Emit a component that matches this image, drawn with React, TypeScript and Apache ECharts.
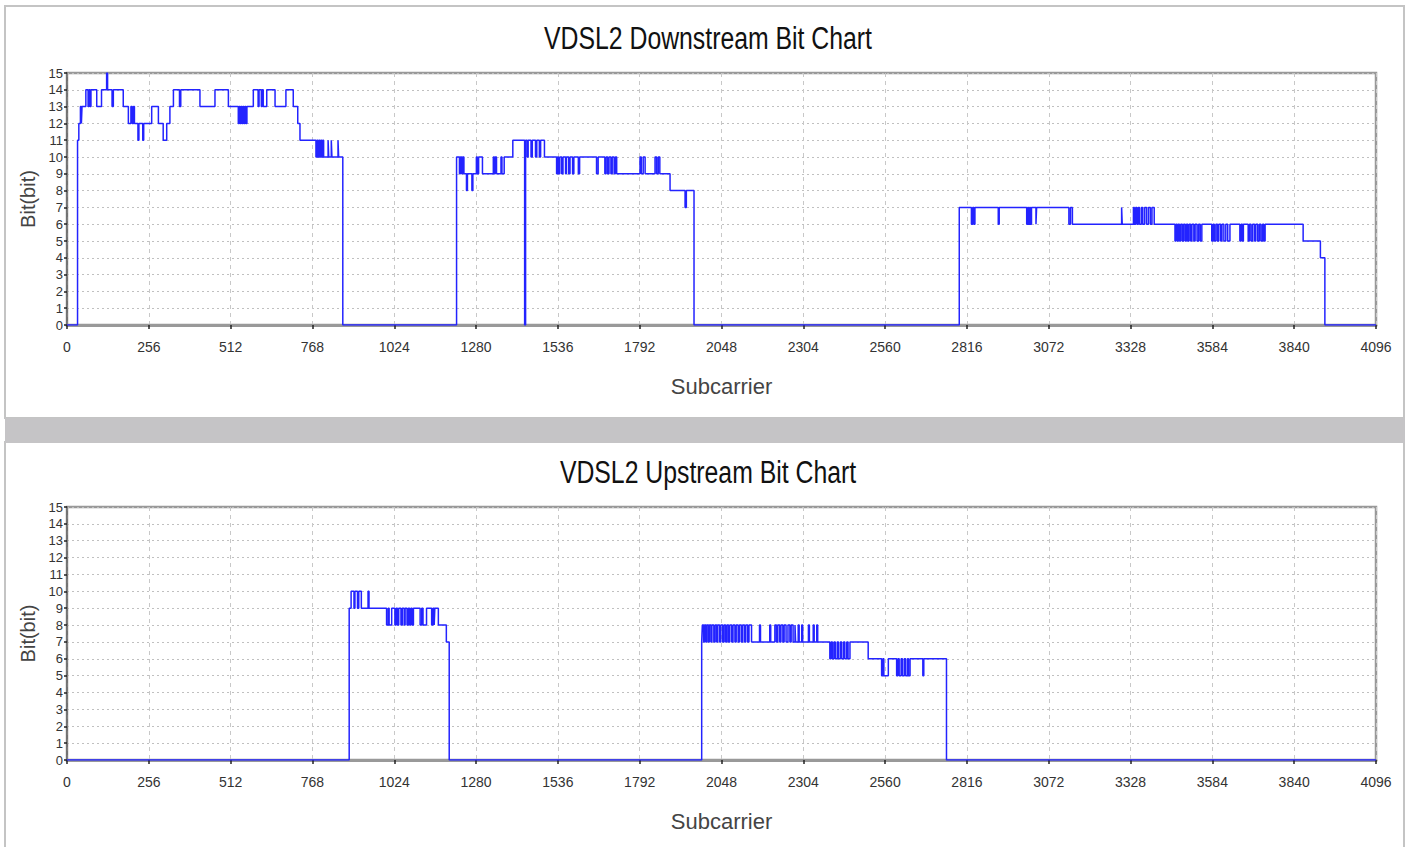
import { useEffect, useRef } from "react";
import * as echarts from "echarts";

// ---------- data (subcarrier index, bits) breakpoints, held until next point ----------
const downTitle = "VDSL2 Downstream Bit Chart";
const upTitle = "VDSL2 Upstream Bit Chart";
const xName = "Subcarrier";
const yName = "Bit(bit)";

const downBand1: [number, number][] = [
  [0, 0], [33, 11], [37, 12], [42, 13], [45, 12], [47, 13], [59, 14], [66, 13], [69, 14], [72, 13], [75, 14],
  [93, 13], [108, 14], [124, 15], [127, 14], [141, 13], [145, 14], [176, 13], [192, 12], [200, 13], [204, 12],
  [208, 13], [211, 12], [222, 11], [225, 12], [237, 11], [240, 12], [265, 13], [286, 12], [301, 11], [312, 12],
  [322, 13], [333, 14], [352, 13], [356, 14], [416, 13], [463, 14], [505, 13], [536, 12], [539, 13], [542, 12],
  [545, 13], [548, 12], [551, 13], [554, 12], [557, 13], [560, 12], [563, 13], [583, 14], [598, 13], [601, 14],
  [608, 13], [611, 14], [614, 13], [625, 14], [651, 13], [685, 14], [708, 13], [722, 12], [729, 11], [779, 10],
  [782, 11], [785, 10], [788, 11], [791, 10], [794, 11], [797, 10], [800, 11], [803, 10], [817, 11], [819, 10],
  [827, 11], [829, 10], [848, 11], [850, 10], [863, 0],
];
const downBand2: [number, number][] = [
  [1219, 10], [1228, 9], [1231, 10], [1235, 9], [1238, 10], [1242, 9], [1250, 8], [1253, 9], [1267, 8], [1270, 9],
  [1281, 10], [1284, 9], [1288, 10], [1300, 9], [1334, 10], [1337, 9], [1340, 10], [1344, 9], [1358, 10], [1361, 9],
  [1368, 10], [1395, 11], [1432, 0], [1435, 11], [1440, 10], [1443, 11], [1452, 10], [1456, 11], [1466, 10],
  [1470, 11], [1478, 10], [1482, 11], [1494, 10], [1532, 9], [1535, 10], [1538, 9], [1542, 10], [1548, 9],
  [1552, 10], [1560, 9], [1563, 10], [1570, 9], [1574, 10], [1582, 9], [1586, 10], [1600, 9], [1604, 10],
  [1657, 9], [1662, 10], [1683, 9], [1687, 10], [1692, 9], [1696, 10], [1702, 9], [1706, 10], [1712, 9],
  [1716, 10], [1720, 9], [1793, 10], [1797, 9], [1803, 10], [1809, 9], [1840, 10], [1845, 9], [1850, 10],
  [1855, 9], [1887, 8], [1934, 7], [1938, 8], [1962, 0],
];
const downBand3: [number, number][] = [
  [2792, 7], [2830, 6], [2834, 7], [2838, 6], [2841, 7], [2914, 6], [2917, 7], [3003, 6], [3006, 7], [3009, 6],
  [3012, 7], [3015, 6], [3018, 7], [3032, 6], [3034, 7], [3135, 6], [3140, 7], [3146, 6], [3300, 7], [3302, 6],
  [3337, 7], [3340, 6], [3344, 7], [3348, 6], [3352, 7], [3356, 6], [3362, 7], [3366, 6], [3372, 7], [3378, 6],
  [3384, 7], [3390, 6], [3395, 7], [3402, 6], [3467, 5], [3470, 6], [3474, 5], [3477, 6], [3481, 5], [3485, 6],
  [3490, 5], [3494, 6], [3499, 5], [3503, 6], [3507, 5], [3511, 6], [3516, 5], [3520, 6], [3526, 5], [3530, 6],
  [3536, 5], [3541, 6], [3546, 5], [3551, 6], [3582, 5], [3586, 6], [3590, 5], [3595, 6], [3600, 5], [3604, 6],
  [3610, 5], [3614, 6], [3620, 5], [3626, 6], [3632, 5], [3639, 6], [3670, 5], [3674, 6], [3678, 5], [3681, 6],
  [3696, 5], [3700, 6], [3705, 5], [3710, 6], [3716, 5], [3720, 6], [3726, 5], [3731, 6], [3736, 5], [3741, 6],
  [3745, 5], [3749, 6], [3868, 5], [3922, 4], [3936, 0], [4096, 0],
];

const upBand1: [number, number][] = [
  [0, 0], [883, 9], [889, 10], [898, 9], [901, 10], [909, 9], [913, 10], [921, 9], [942, 10], [945, 9],
  [1000, 8], [1005, 9], [1008, 8], [1016, 9], [1026, 8], [1030, 9], [1034, 8], [1038, 9], [1045, 8], [1049, 9],
  [1055, 8], [1058, 9], [1064, 8], [1068, 9], [1072, 8], [1076, 9], [1080, 8], [1084, 9], [1105, 8], [1110, 9],
  [1114, 8], [1125, 9], [1141, 8], [1145, 9], [1149, 8], [1151, 9], [1162, 8], [1187, 7], [1196, 0],
];
const upBand2: [number, number][] = [
  [1986, 7], [1988, 8], [1992, 7], [1995, 8], [1999, 7], [2002, 8], [2007, 7], [2010, 8], [2015, 7], [2018, 8],
  [2024, 7], [2028, 8], [2033, 7], [2036, 8], [2042, 7], [2046, 8], [2052, 7], [2056, 8], [2061, 7], [2065, 8],
  [2070, 7], [2074, 8], [2080, 7], [2084, 8], [2090, 7], [2094, 8], [2100, 7], [2104, 8], [2110, 7], [2114, 8],
  [2120, 7], [2124, 8], [2130, 7], [2134, 8], [2142, 7], [2167, 8], [2170, 7], [2199, 8], [2202, 7], [2215, 8],
  [2220, 7], [2224, 8], [2230, 7], [2234, 8], [2240, 7], [2244, 8], [2250, 7], [2256, 8], [2262, 7], [2266, 8],
  [2272, 7], [2278, 8], [2280, 7], [2288, 8], [2291, 7], [2299, 8], [2302, 7], [2320, 8], [2323, 7], [2335, 8],
  [2338, 7], [2346, 8], [2349, 7], [2387, 6], [2391, 7], [2395, 6], [2400, 7], [2404, 6], [2410, 7], [2414, 6],
  [2420, 7], [2424, 6], [2430, 7], [2434, 6], [2440, 7], [2444, 6], [2450, 7], [2507, 6], [2549, 5], [2553, 6],
  [2556, 5], [2570, 6], [2596, 5], [2600, 6], [2604, 5], [2610, 6], [2614, 5], [2620, 6], [2624, 5], [2630, 6],
  [2633, 5], [2638, 6], [2678, 5], [2681, 6], [2752, 0], [4096, 0],
];

const xMax = 4096;
const xStep = 256;
const yMax = 15;
const yStep = 1;

const FONT = "'Liberation Sans', Arial, sans-serif";

export default function App() {
  const ref = useRef<HTMLDivElement>(null);

  useEffect(() => {
    if (!ref.current) return;
    const chart = echarts.init(ref.current, undefined, { renderer: "svg" });

    const downData = [...downBand1, ...downBand2, ...downBand3];
    const upData = [...upBand1, ...upBand2];

    const mkX = (gridIndex: number) => ({
      type: "value",
      gridIndex,
      min: 0,
      max: xMax,
      interval: xStep,
      name: xName,
      nameLocation: "middle",
      nameGap: 50,
      nameTextStyle: { fontFamily: FONT, fontSize: 22, color: "#444" },
      axisLine: { show: true, onZero: false, lineStyle: { color: "#999", width: 3 } },
      axisTick: { show: true, inside: false, length: 4, lineStyle: { color: "#222", width: 1.5 } },
      axisLabel: {
        fontFamily: FONT,
        fontSize: 14,
        color: "#333",
        margin: 15,
        formatter: (v: number) => String(v),
      },
      splitLine: { show: true, lineStyle: { color: "#c8c8c8", type: [4, 4], width: 1 } },
    });
    const mkY = (gridIndex: number) => ({
      type: "value",
      gridIndex,
      min: 0,
      max: yMax,
      interval: yStep,
      name: yName,
      nameLocation: "middle",
      nameGap: 24,
      nameRotate: 90,
      nameTextStyle: { fontFamily: FONT, fontSize: 20, color: "#444" },
      axisLine: { show: true, lineStyle: { color: "#666", width: 1.5 } },
      axisTick: { show: true, length: 3, lineStyle: { color: "#222", width: 1.5 } },
      axisLabel: { fontFamily: FONT, fontSize: 13, color: "#333", margin: 4, lineHeight: 13 },
      splitLine: { show: true, lineStyle: { color: "#c0c0c0", type: [2, 3], width: 1 } },
    });

    const seriesStyle = {
      type: "line",
      step: "end",
      showSymbol: false,
      symbol: "none",
      lineStyle: { color: "#2323ff", width: 1.5 },
      z: 5,
    };

    const titleStyle = (text: string) => ({
      text,
      fill: "#111",
      font: `normal 31px ${FONT}`,
      textAlign: "center",
      textVerticalAlign: "middle",
    });

    chart.setOption({
      animation: false,
      backgroundColor: "#ffffff",
      graphic: [
        { type: "rect", shape: { x: 5, y: 6, width: 1399, height: 412 }, style: { fill: "none", stroke: "#c4c4c4", lineWidth: 2 }, silent: true },
        { type: "rect", shape: { x: 5, y: 442, width: 1399, height: 410 }, style: { fill: "none", stroke: "#c4c4c4", lineWidth: 2 }, silent: true },
        { type: "rect", shape: { x: 5, y: 418, width: 1400, height: 25 }, style: { fill: "#c5c4c6" }, silent: true },
        { type: "text", x: 708, y: 39, scaleX: 0.8, style: titleStyle(downTitle), silent: true },
        { type: "text", x: 708, y: 473, scaleX: 0.8, style: titleStyle(upTitle), silent: true },
      ],
      grid: [
        { left: 67, top: 73, width: 1309, height: 252, show: true, borderColor: "#999", borderWidth: 2.5, containLabel: false },
        { left: 67, top: 507, width: 1309, height: 253, show: true, borderColor: "#999", borderWidth: 2.5, containLabel: false },
      ],
      xAxis: [mkX(0), mkX(1)],
      yAxis: [mkY(0), mkY(1)],
      series: [
        { ...seriesStyle, name: "Downstream", xAxisIndex: 0, yAxisIndex: 0, data: downData },
        { ...seriesStyle, name: "Upstream", xAxisIndex: 1, yAxisIndex: 1, data: upData },
      ],
    });

    return () => chart.dispose();
  }, []);

  return (
    <div
      ref={ref}
      style={{ position: "fixed", left: 0, top: 0, width: 1411, height: 847, background: "#fff" }}
    />
  );
}
